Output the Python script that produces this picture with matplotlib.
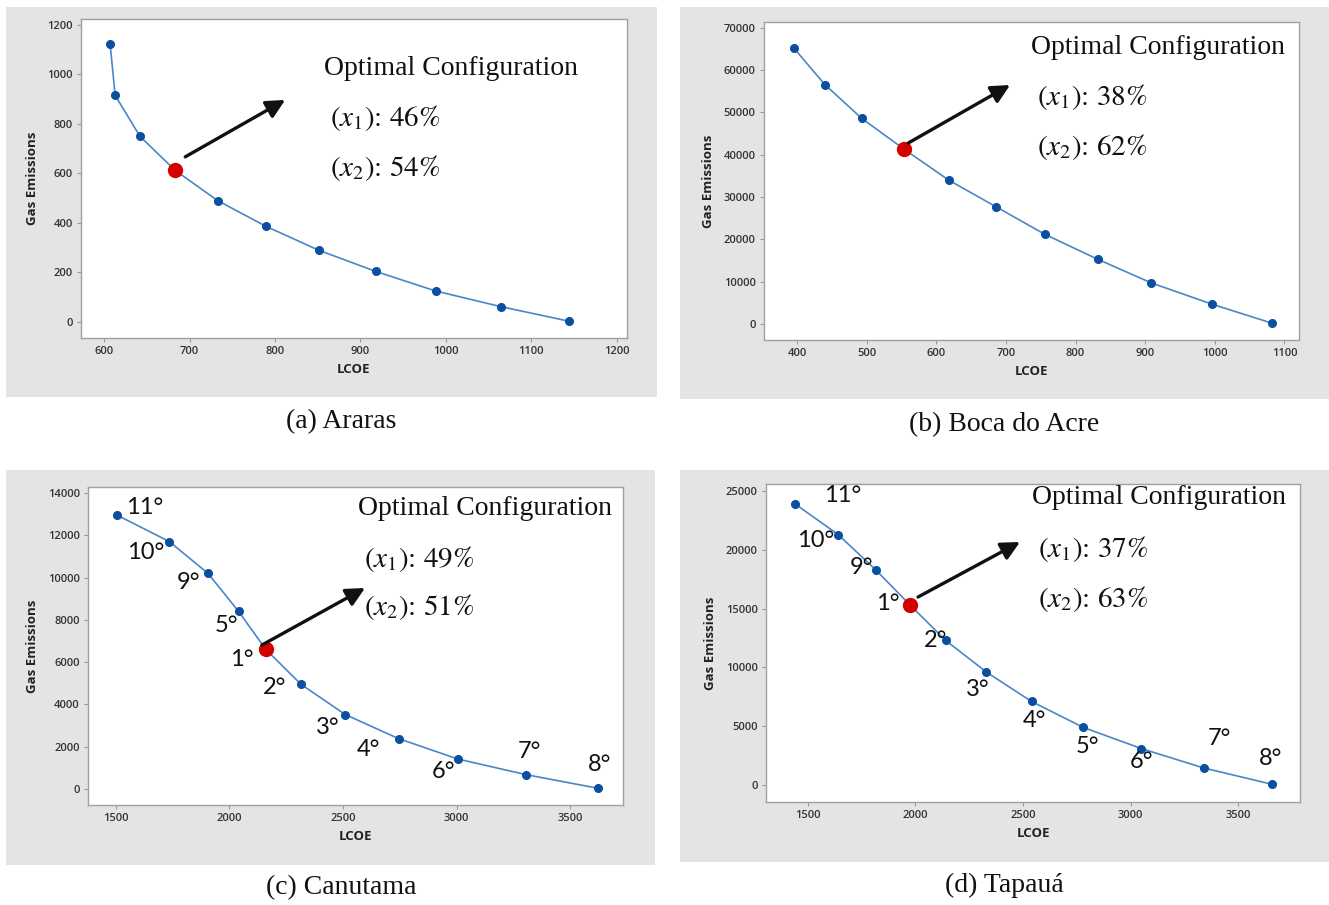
import matplotlib
matplotlib.use("Agg")
import matplotlib.pyplot as plt
from matplotlib.patches import Rectangle

# ---------------- data ----------------
araras_lcoe = [607, 613, 642, 683, 733, 789, 851, 918, 988, 1064, 1144]
araras_gas = [1125, 915, 750, 613, 490, 387, 290, 204, 125, 62, 3]
araras_opt = 3

boca_lcoe = [395, 440, 493, 554, 618, 686, 756, 832, 909, 996, 1082]
boca_gas = [65300, 56600, 48600, 41300, 34000, 27700, 21200, 15300, 9700, 4700, 200]
boca_opt = 3

canutama_lcoe = [1505, 1735, 1905, 2040, 2160, 2315, 2510, 2745, 3005, 3305, 3625]
canutama_gas = [12950, 11700, 10200, 8400, 6600, 4950, 3520, 2380, 1420, 680, 30]
canutama_opt = 4
canutama_ranks = ["11°", "10°", "9°", "5°", "1°", "2°", "3°", "4°", "6°", "7°", "8°"]

tapaua_lcoe = [1440, 1640, 1815, 1975, 2140, 2330, 2540, 2780, 3050, 3340, 3660]
tapaua_gas = [23900, 21300, 18300, 15300, 12300, 9600, 7100, 4900, 3100, 1450, 50]
tapaua_opt = 3
tapaua_ranks = ["11°", "10°", "9°", "1°", "2°", "3°", "4°", "5°", "6°", "7°", "8°"]

araras_x1, araras_x2 = "46%", "54%"
boca_x1, boca_x2 = "38%", "62%"
canutama_x1, canutama_x2 = "49%", "51%"
tapaua_x1, tapaua_x2 = "37%", "63%"

captions = ["(a) Araras", "(b) Boca do Acre", "(c) Canutama", "(d) Tapauá"]

araras_xticks = [600, 700, 800, 900, 1000, 1100, 1200]
araras_yticks = [0, 200, 400, 600, 800, 1000, 1200]
boca_xticks = [400, 500, 600, 700, 800, 900, 1000, 1100]
boca_yticks = [0, 10000, 20000, 30000, 40000, 50000, 60000, 70000]
canutama_xticks = [1500, 2000, 2500, 3000, 3500]
canutama_yticks = [0, 2000, 4000, 6000, 8000, 10000, 12000, 14000]
tapaua_xticks = [1500, 2000, 2500, 3000, 3500]
tapaua_yticks = [0, 5000, 10000, 15000, 20000, 25000]

# ---------------- layout ----------------
W, H = 1329, 905
fig = plt.figure(figsize=(W / 100, H / 100), dpi=100)
fig.patch.set_facecolor("white")
plt.rcParams["mathtext.fontset"] = "stix"

def fr(x0, y0, x1, y1):
    return [x0 / W, 1 - y1 / H, (x1 - x0) / W, (y1 - y0) / H]

bg_boxes = [(6, 7, 657, 397), (680, 7, 1329, 399), (6, 470, 655, 865), (680, 470, 1329, 862)]
ax_boxes = [(81, 19, 627, 338), (764, 22, 1299, 340), (88, 487, 623, 805), (766, 484, 1300, 802)]
cap_pos = [(341, 422), (1004, 425), (341, 888), (1004, 885)]

for (x0, y0, x1, y1) in bg_boxes:
    fig.patches.append(Rectangle((x0 / W, 1 - y1 / H), (x1 - x0) / W, (y1 - y0) / H,
                                 transform=fig.transFigure, facecolor="#e4e4e4",
                                 edgecolor="none", zorder=-10))

panels = [
    dict(x=araras_lcoe, y=araras_gas, opt=araras_opt, xt=araras_xticks, yt=araras_yticks,
         xlim=(573, 1212), ylim=(-65, 1224), p1=araras_x1, p2=araras_x2,
         arrow=((695, 667), (812, 897)), txt=(0.445, 0.846, 0.456, 0.69, 0.533), ranks=None),
    dict(x=boca_lcoe, y=boca_gas, opt=boca_opt, xt=boca_xticks, yt=boca_yticks,
         xlim=(352.6, 1121), ylim=(-3780, 71390), p1=boca_x1, p2=boca_x2,
         arrow=((560, 42800), (706, 56500)), txt=(0.499, 0.921, 0.51, 0.764, 0.607), ranks=None),
    dict(x=canutama_lcoe, y=canutama_gas, opt=canutama_opt, xt=canutama_xticks, yt=canutama_yticks,
         xlim=(1377, 3733), ylim=(-757, 14280), p1=canutama_x1, p2=canutama_x2,
         arrow=((2143, 6808), (2597, 9504)), txt=(0.505, 0.931, 0.516, 0.774, 0.623),
         ranks=canutama_ranks,
         offs=[(28, 8), (-24, -11), (-19, -9), (-12, -14), (-24, -10), (-26, -3),
               (-18, -13), (-30, -11), (-14, -13), (4, 23), (1, 24)]),
    dict(x=tapaua_lcoe, y=tapaua_gas, opt=tapaua_opt, xt=tapaua_xticks, yt=tapaua_yticks,
         xlim=(1305, 3788), ylim=(-1446, 25595), p1=tapaua_x1, p2=tapaua_x2,
         arrow=((2012, 15986), (2486, 20663)), txt=(0.498, 0.956, 0.509, 0.796, 0.638),
         ranks=tapaua_ranks,
         offs=[(48, 8), (-22, -6), (-14, 2), (-22, 2), (-10, 0), (-9, -17),
               (3, -19), (4, -19), (0, -13), (16, 29), (-2, 26)]),
]

serif = "Liberation Serif"
sans = "Open Sans"
for i, (p, box) in enumerate(zip(panels, ax_boxes)):
    ax = fig.add_axes(fr(*box), zorder=2)
    ax.set_facecolor("white")
    ax.plot(p["x"], p["y"], color="#4a86c8", lw=1.2, zorder=2)
    ax.plot(p["x"], p["y"], "o", color="#0a4fa0", ms=5.5, zorder=3)
    ax.plot([p["x"][p["opt"]]], [p["y"][p["opt"]]], "o", color="#d40000", ms=10, zorder=4)
    ax.set_xlim(*p["xlim"])
    ax.set_ylim(*p["ylim"])
    ax.set_xticks(p["xt"])
    ax.set_yticks(p["yt"])
    ax.set_xticklabels([str(v) for v in p["xt"]], fontfamily=sans, fontsize=8,
                       fontweight="semibold", color="#333333")
    ax.set_yticklabels([str(v) for v in p["yt"]], fontfamily=sans, fontsize=8,
                       fontweight="semibold", color="#333333")
    ax.tick_params(axis="both", direction="out", length=3, width=0.8, color="#999999", pad=3)
    for s in ax.spines.values():
        s.set_color("#a0a0a0")
        s.set_linewidth(1.0)
    ax.set_xlabel("LCOE", fontfamily=sans, fontsize=9.5, fontweight="bold", color="#222222", labelpad=4)
    ax.set_ylabel("Gas Emissions", fontfamily=sans, fontsize=9.5, fontweight="bold", color="#222222", labelpad=6)

    (s0, e0) = p["arrow"]
    ax.annotate("", xy=e0, xytext=s0, xycoords="data",
                arrowprops=dict(arrowstyle="-|>", lw=2.4, color="#111111", mutation_scale=28,
                                shrinkA=0, shrinkB=0), zorder=5)
    tx, ty0, tx1, ty1, ty2 = p["txt"]
    ax.text(tx, ty0, "Optimal Configuration", transform=ax.transAxes, fontfamily=serif,
            fontsize=20, va="center", ha="left", color="#111111")
    ax.text(tx1, ty1, r"$(x_1)$: " + p["p1"], transform=ax.transAxes, fontfamily="STIXGeneral",
            fontsize=21, va="center", ha="left", color="#111111")
    ax.text(tx1, ty2, r"$(x_2)$: " + p["p2"], transform=ax.transAxes, fontfamily="STIXGeneral",
            fontsize=21, va="center", ha="left", color="#111111")

    if p["ranks"]:
        for xv, yv, lab, off in zip(p["x"], p["y"], p["ranks"], p["offs"]):
            ax.annotate(lab, xy=(xv, yv), xytext=off, textcoords="offset pixels",
                        fontfamily="Lato", fontsize=17, ha="center", va="center", color="#111111")

for cap, (cx, cy) in zip(captions, cap_pos):
    fig.text(cx / W, 1 - cy / H, cap, fontfamily=serif, fontsize=20, ha="center", va="center",
             color="#111111")

fig.savefig("out.png", dpi=100)
